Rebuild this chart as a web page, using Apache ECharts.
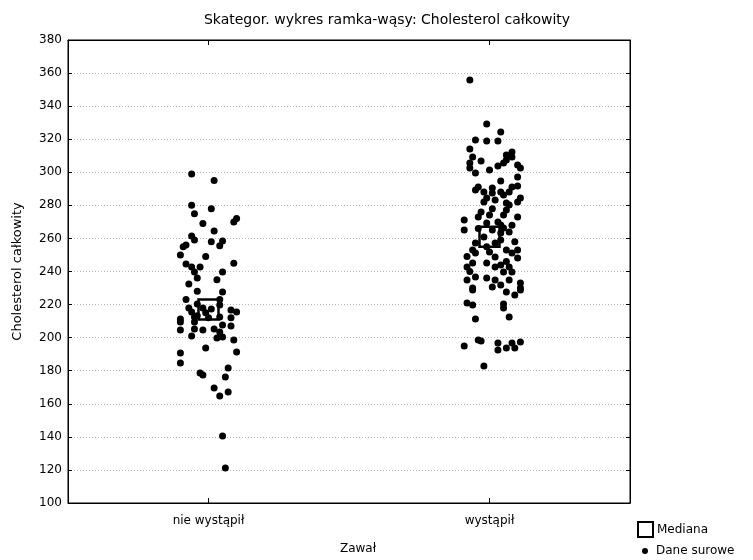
<!DOCTYPE html>
<html>
<head>
<meta charset="utf-8">
<script src="https://cdn.jsdelivr.net/npm/echarts@6/dist/echarts.min.js"></script>
<style>html,body{margin:0;padding:0;background:#fff}#c{width:753px;height:560px}</style>
</head>
<body>
<div id="c"></div>
<script>
// Data
const categories = ['nie wystąpił', 'wystąpił'];
const titleText = 'Skategor. wykres ramka-wąsy: Cholesterol całkowity';
const yTicks = {min: 100, max: 380, step: 20};
const medians = [217, 261];
// raw data: jitter (hundredths of category spacing), value
const jitterNie = [-6,2,-6,-5,1,10,9,-2,2,-6,-5,-8,-9,1,5,4,-10,-1,9,-8,-6,-3,-5,-4,5,3,-7,-4,5,-8,4,-7,-6,-4,-2,1,-1,8,10,-10,-10,-10,-5,-5,-2,8,8,5,2,4,3,5,-6,9,-1,10,-10,-10,7,-3,-2,6,2,4,7,5,6,0,-4,4,-5,4];
const valuesNie = [299,295,280,275,278,272,270,269,264.5,261.5,259,256,255,258,258.5,255.5,250,249,245,244.5,242.7,242.7,239.7,236,239.7,235,232.4,228,227.6,223,223,218,215.5,220.4,218,217.3,215,216.7,215.5,211.3,209.5,204.6,209.5,205.2,204.6,212,207,207.7,205.2,203.4,199.8,200.4,201,198.6,193.7,191.3,190.7,184.7,181.6,178.6,177.4,176.2,169.6,164.7,167.1,140.5,121.2,212,213.3,219.8,212.5,212.5];
const jitterWys = [-7,-1,4,-5,-1,3,-7,-6,-3,-7,-7,-5,0,3,6,8,6,8,5,10,11,10,4,-4,-5,-2,1,1,4,5,8,10,7,-1,2,6,11,-2,7,10,-9,-9,-4,0,5,6,10,-1,1,4,5,7,-2,4,4,2,-5,-6,-5,0,2,6,8,10,10,-6,-8,-1,2,4,5,7,8,-8,-5,-1,2,4,7,11,-6,1,11,-6,6,9,11,-8,-6,5,5,-5,7,-4,-3,-9,3,3,6,8,9,11,-2,-8,-7,-3,3,9,-1,6,-4,1,8];
const valuesWys = [355.8,329.2,324.4,319.5,318.9,318.9,314.1,309.2,306.8,305.6,302.6,299.6,301.4,303.8,310.5,312.3,307.4,309.2,305.6,304.4,302.6,297.2,294.7,291.1,289.3,288.1,290.5,287.5,288.1,286.3,291.1,291.7,288.1,284.5,283.2,281.4,284.5,282,280.2,282,271.1,265.1,273,274.2,274.2,277.2,273,269.3,265.1,268.1,266.3,263.9,260.9,263.3,259,257.2,257.2,253,251.2,251.8,248.8,253,251.2,253,248.2,245.1,242.7,245.1,242.7,243.9,239.7,242.7,239.7,234.9,236.7,236.1,234.9,231.8,234.9,233.1,230,230.6,230,228.8,227.6,225.8,228.8,221,219.7,220.4,217.9,211.3,212.5,198.6,198,195,196.8,192.5,193.8,196.8,193.7,197.4,182.9,249,240,276,270,258,255,246,266,278,268];

const rawNie = valuesNie.map((v, i) => [0 + jitterNie[i] / 100, v]);
const rawWys = valuesWys.map((v, i) => [1 + jitterWys[i] / 100, v]);
const raw = rawNie.concat(rawWys);
const medData = medians.map((m, i) => [i, m]);

const font = '"DejaVu Sans", sans-serif';
const chart = echarts.init(document.getElementById('c'), null, {renderer: 'canvas'});
chart.setOption({
  animation: false,
  backgroundColor: '#fff',
  textStyle: {fontFamily: font},
  title: {
    text: titleText, left: 382, top: 8, textAlign: 'center',
    textStyle: {fontSize: 14, fontWeight: 'normal', color: '#000', fontFamily: font}
  },
  grid: {left: 68, right: 123, top: 40, bottom: 57, show: true, borderColor: '#000', borderWidth: 1, backgroundColor: 'transparent'},
  legend: [
    {data: ['Mediana'], left: 637, top: 521, itemWidth: 15, itemHeight: 15, icon: 'rect',
     textStyle: {fontSize: 12, color: '#000', fontFamily: font, padding: [0,0,0,-1]}, padding: 0},
    {data: ['Dane surowe'], left: 642, top: 545, itemWidth: 6, itemHeight: 6, icon: 'circle', itemGap: 0,
     textStyle: {fontSize: 12, color: '#000', fontFamily: font, padding: [0,0,0,3]}, padding: 0}
  ],
  xAxis: [
    {type: 'category', data: categories, position: 'bottom', boundaryGap: true,
     axisLine: {show: true, onZero: false, lineStyle: {color: '#000'}},
     axisTick: {show: true, alignWithLabel: true, inside: true, length: 5, lineStyle: {color: '#000'}},
     axisLabel: {color: '#000', fontSize: 12, margin: 12, fontFamily: font},
     splitLine: {show: false},
     name: 'Zawał', nameLocation: 'middle', nameGap: 40,
     nameTextStyle: {color: '#000', fontSize: 12, fontFamily: font, padding: [0,0,0,18]}},
    {type: 'value', min: -0.5, max: 1.5, show: false, position: 'bottom', axisLine: {onZero: false}},
    {type: 'category', data: categories, position: 'top', boundaryGap: true,
     axisLine: {show: true, onZero: false, lineStyle: {color: '#000'}},
     axisTick: {show: true, alignWithLabel: true, inside: true, length: 5, lineStyle: {color: '#000'}},
     axisLabel: {show: false}, splitLine: {show: false}}
  ],
  yAxis: [
    {type: 'value', min: yTicks.min, max: yTicks.max, interval: yTicks.step, position: 'left',
     axisLine: {show: true, onZero: false, lineStyle: {color: '#000'}},
     axisTick: {show: true, inside: true, length: 4, lineStyle: {color: '#000'}},
     axisLabel: {color: '#000', fontSize: 12, margin: 6, fontFamily: font},
     splitLine: {show: true, lineStyle: {color: '#b8b8b8', type: [1, 2], width: 1}},
     name: 'Cholesterol całkowity', nameLocation: 'middle', nameGap: 44, nameRotate: 90,
     nameTextStyle: {color: '#000', fontSize: 13, fontFamily: font}},
    {type: 'value', min: yTicks.min, max: yTicks.max, interval: yTicks.step, position: 'right',
     axisLine: {show: true, onZero: false, lineStyle: {color: '#000'}},
     axisTick: {show: true, inside: true, length: 4, lineStyle: {color: '#000'}},
     axisLabel: {show: false}, splitLine: {show: false}}
  ],
  series: [
    {name: 'Dane surowe', type: 'scatter', xAxisIndex: 1, yAxisIndex: 0, data: raw,
     symbol: 'circle', symbolSize: 7, z: 3,
     itemStyle: {color: '#000', opacity: 1}},
    {name: 'Mediana', type: 'scatter', xAxisIndex: 1, yAxisIndex: 0, data: medData,
     symbol: 'rect', symbolSize: 20, z: 5,
     itemStyle: {color: 'rgba(255,255,255,0)', borderColor: '#000', borderWidth: 2.5, opacity: 1}}
  ]
});
</script>
</body>
</html>
